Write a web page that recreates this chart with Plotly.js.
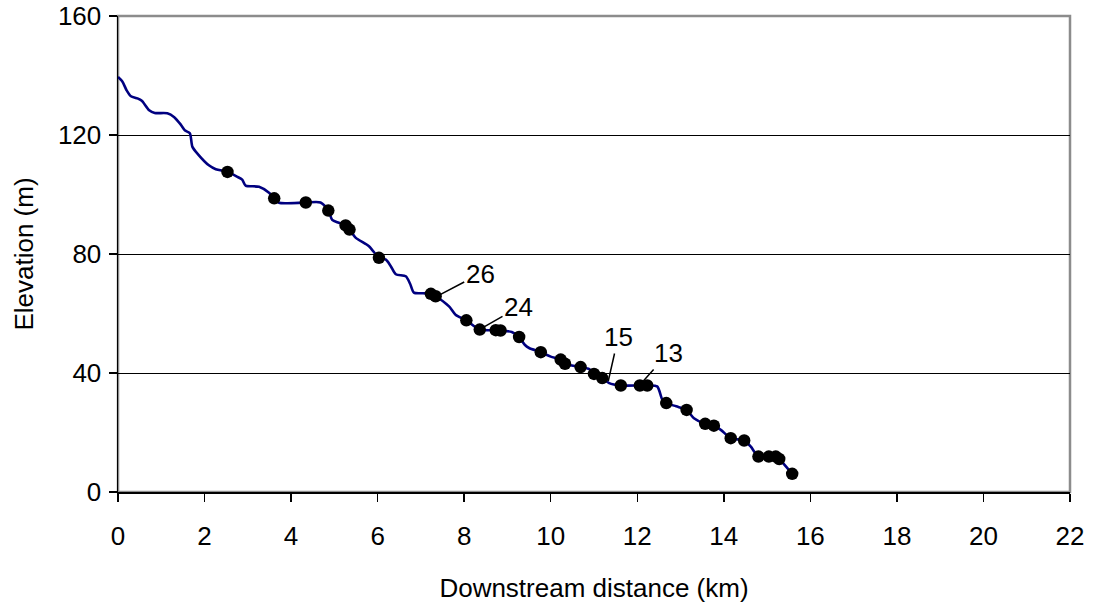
<!DOCTYPE html>
<html>
<head>
<meta charset="utf-8">
<script src="https://cdn.plot.ly/plotly-3.0.1.min.js"></script>
<style>html,body{margin:0;padding:0;background:#fff;}#chart{width:1093px;height:606px;}</style>
</head>
<body>
<div id="chart"></div>
<script>
// Longitudinal profile (smoothed line)
const profileDistance = [0, 0.1, 0.2, 0.3, 0.45, 0.55, 0.72, 0.85, 1.14, 1.3, 1.45, 1.55, 1.66, 1.72, 1.85, 2.1, 2.26, 2.53, 2.75, 2.87, 2.95, 3.26, 3.49, 3.61, 3.72, 4.34, 4.68, 4.86, 4.95, 5.1, 5.26, 5.35, 5.49, 5.8, 6.03, 6.19, 6.3, 6.42, 6.65, 6.75, 6.84, 7.05, 7.23, 7.34, 7.65, 7.8, 8.05, 8.36, 8.73, 8.84, 9.1, 9.27, 9.4, 9.5, 9.77, 10.0, 10.23, 10.33, 10.69, 10.89, 11.0, 11.19, 11.35, 11.62, 12.06, 12.23, 12.46, 12.58, 12.67, 12.9, 13.14, 13.31, 13.57, 13.77, 13.93, 14.16, 14.47, 14.62, 14.8, 15.04, 15.2, 15.28, 15.58];
const profileElevation = [139.5, 138, 135, 133, 132.3, 131.5, 128.3, 127.4, 127.3, 126, 123.5, 121.5, 120.6, 116, 113.5, 109.8, 108.5, 107.6, 106, 105, 103, 102.6, 100.6, 98.7, 97.2, 97.3, 97.3, 94.6, 91.5, 90.5, 89.6, 88.2, 85.5, 82.6, 78.7, 78.1, 76, 73.2, 72.5, 70, 67, 66.8, 66.6, 65.8, 62.4, 59.6, 57.7, 54.6, 54.4, 54.3, 53.8, 52.1, 49.5, 48.4, 47.0, 45.5, 44.5, 43.1, 42.0, 41.3, 39.7, 38.3, 36.6, 35.8, 35.8, 35.8, 35.5, 31.0, 29.9, 28.8, 27.6, 24.8, 22.9, 22.3, 20.9, 18.1, 17.3, 15.3, 11.9, 11.9, 11.9, 11.1, 6.1];

// Sampled sites (black dots)
const siteDistance = [2.53, 3.61, 4.34, 4.86, 5.26, 5.35, 6.03, 7.23, 7.34, 8.05, 8.36, 8.73, 8.84, 9.27, 9.77, 10.23, 10.33, 10.69, 11.0, 11.19, 11.62, 12.06, 12.23, 12.67, 13.14, 13.57, 13.77, 14.16, 14.47, 14.8, 15.04, 15.2, 15.28, 15.58];
const siteElevation = [107.6, 98.7, 97.3, 94.6, 89.6, 88.2, 78.7, 66.6, 65.8, 57.7, 54.6, 54.4, 54.3, 52.1, 47.0, 44.5, 43.1, 42.0, 39.7, 38.3, 35.8, 35.8, 35.8, 29.9, 27.6, 22.9, 22.3, 18.1, 17.3, 11.9, 11.9, 11.9, 11.1, 6.1];

// Labelled sites
const labelText = ["26", "24", "15", "13"];
const labelDistance = [7.40, 8.40, 11.33, 12.14];
const labelElevation = [66.0, 55.0, 37.3, 37.3];

const xTicks = [0, 2, 4, 6, 8, 10, 12, 14, 16, 18, 20, 22];
const yTicks = [0, 40, 80, 120, 160];

const FONT = "Liberation Sans, Arial, sans-serif";
const FS = 26;

const labelOffsets = [[42, -22], [37, -21], [10, -44], [25, -28]];

const annotations = labelText.map((t, i) => ({
  x: labelDistance[i], y: labelElevation[i], xref: 'x', yref: 'y',
  text: t, showarrow: true, arrowhead: 0, arrowwidth: 1.5, arrowcolor: '#000',
  ax: labelOffsets[i][0], ay: labelOffsets[i][1], standoff: 0,
  font: {family: FONT, size: FS, color: '#000'}
}));

const traces = [
  {x: profileDistance, y: profileElevation, type: 'scatter', mode: 'lines',
   line: {color: '#000080', width: 2.6, shape: 'spline', smoothing: 0.7}, hoverinfo: 'skip'},
  {x: siteDistance, y: siteElevation, type: 'scatter', mode: 'markers',
   marker: {color: '#000', size: 12.5}}
];

const layout = {
  width: 1093, height: 606,
  margin: {l: 118, r: 23, t: 16, b: 114},
  paper_bgcolor: '#fff', plot_bgcolor: '#fff',
  showlegend: false,
  font: {family: FONT, size: FS, color: '#000'},
  xaxis: {
    range: [0, 22], tickvals: xTicks, ticktext: xTicks.map(String),
    showgrid: false, zeroline: false, showline: true, linecolor: '#000', linewidth: 1.5,
    ticks: 'outside', ticklen: 8, tickcolor: '#000', tickwidth: 1.5,
    ticklabelstandoff: 12,
    tickfont: {family: FONT, size: FS},
    title: {text: 'Downstream distance (km)', font: {family: FONT, size: FS}, standoff: 29}
  },
  yaxis: {
    range: [0, 160], tickvals: yTicks, ticktext: yTicks.map(String),
    showgrid: true, gridcolor: '#000', gridwidth: 1, zeroline: false,
    showline: true, linecolor: '#000', linewidth: 1.5,
    ticks: 'outside', ticklen: 8, tickcolor: '#000', tickwidth: 1.5,
    ticklabelstandoff: 2,
    tickfont: {family: FONT, size: FS},
    title: {text: 'Elevation (m)', font: {family: FONT, size: FS}, standoff: 17}
  },
  shapes: [
    {type: 'rect', xref: 'paper', yref: 'paper', x0: 0, x1: 1, y0: 0, y1: 1,
     line: {color: '#8c8c8c', width: 2.5}, layer: 'below'}
  ],
  annotations: annotations
};

Plotly.newPlot('chart', traces, layout, {displayModeBar: false, staticPlot: true});
</script>
</body>
</html>
